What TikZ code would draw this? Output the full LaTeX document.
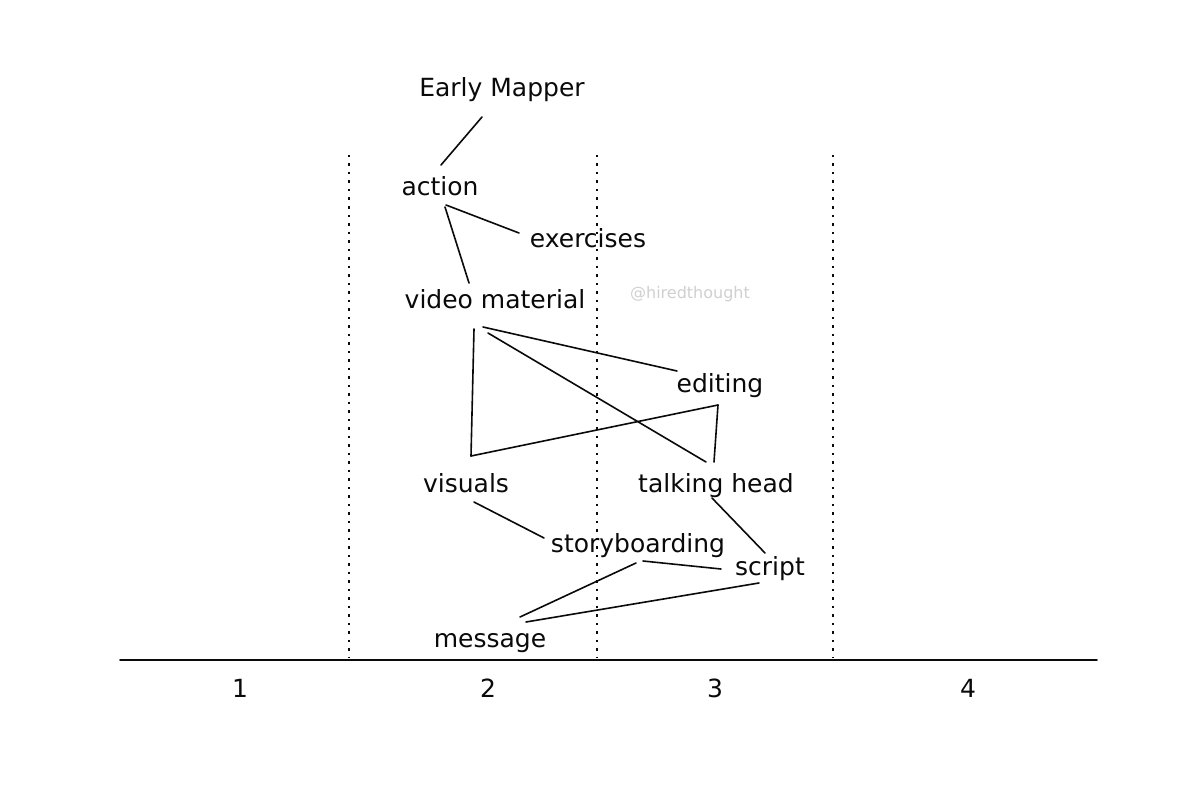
\documentclass[tikz,border=0pt]{standalone}
\usepackage{fontspec}
\setmainfont{DejaVu Sans}
\usepackage{tikz}
\usetikzlibrary{positioning}
\definecolor{dInk}{RGB}{10,10,10}
\definecolor{dMark}{RGB}{208,208,208}
\tikzset{
  idea/.style={anchor=base, inner sep=1pt, text=dInk,
               font=\fontsize{25}{29}\selectfont},
  num/.style={idea},
  wmark/.style={anchor=base, inner sep=0pt, text=dMark,
                font=\fontsize{16}{18}\selectfont},
  link/.style={draw=dInk, line width=1.6pt, line cap=round},
  lane/.style={draw=dInk, line width=1.6pt, dash pattern=on 2.5pt off 6pt},
  axisline/.style={draw=dInk, line width=1.8pt, line cap=round},
}

\begin{document}
\begin{tikzpicture}[x=1pt, y=-1pt]
  \fill[white] (0,0) rectangle (1200,789);
  \useasboundingbox (0,0) rectangle (1200,789);

  % stage lanes and axis
  \foreach \lx in {349,597,833}
    \draw[lane] (\lx,155) -- (\lx,658);
  \coordinate (axL) at (120,660);
  \coordinate (axR) at (1097,660);
  \draw[axisline] (axL) -- (axR);
  \node[num] (n1) at (240,697) {1};
  \node[num] (n2) at (488,697) {2};
  \node[num] (n3) at (715,697) {3};
  \node[num] (n4) at (968,697) {4};

  % mapped items
  \node[idea] (em)     at (502,97)  {Early Mapper};
  \node[idea] (act)    at (440,195) {action};
  \node[idea] (exer)   at (588,247) {exercises};
  \node[idea] (vid)    at (495,308) {video material};
  \node[idea] (edit)   at (720,392) {editing};
  \node[idea] (vis)    at (466,492) {visuals};
  \node[idea] (talk)   at (716,492) {talking head};
  \node[idea] (story)  at (638,552) {storyboarding};
  \node[idea] (script) at (770,575) {script};
  \node[idea] (msg)    at (490,647) {message};
  \node[wmark] (wm)    at (690,298) {@hiredthought};

  % links
  \draw[link] ([shift={(-20,20)}]em.base) -- ([shift={(1,-30)}]act.base);
  \draw[link] ([shift={(6,10)}]act.base) -- ([shift={(-69,-14)}]exer.base);
  \draw[link] ([shift={(5,12)}]act.base) -- ([shift={(-26,-25)}]vid.base);
  \draw[link] ([shift={(-12,19)}]vid.base) -- ([shift={(-43,-21)}]edit.base);
  \draw[link] ([shift={(-7,25)}]vid.base) -- ([shift={(-10,-30)}]talk.base);
  \draw[link] ([shift={(-21,21)}]vid.base) -- ([shift={(5,-36)}]vis.base);
  \draw[link] ([shift={(5,-36)}]vis.base) -- ([shift={(-2,13)}]edit.base);
  \draw[link] ([shift={(-2,13)}]edit.base) -- ([shift={(-2,-30)}]talk.base);
  \draw[link] ([shift={(8,10)}]vis.base) -- ([shift={(-94,-14)}]story.base);
  \draw[link] ([shift={(-4,6)}]talk.base) -- ([shift={(-5,-22)}]script.base);
  \draw[link] ([shift={(5,9)}]story.base) -- ([shift={(-49,-6)}]script.base);
  \draw[link] ([shift={(-2,11)}]story.base) -- ([shift={(30,-30)}]msg.base);
  \draw[link] ([shift={(-11,8)}]script.base) -- ([shift={(36,-25)}]msg.base);
\end{tikzpicture}
\end{document}
